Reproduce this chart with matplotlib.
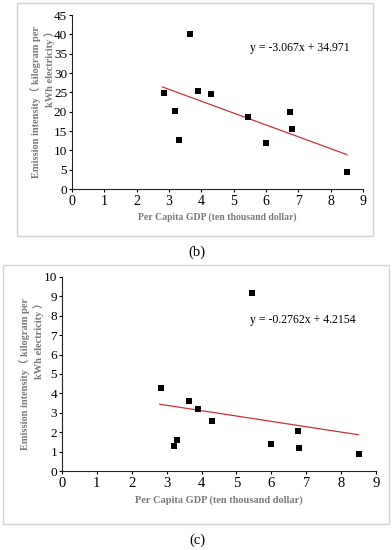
import matplotlib
matplotlib.use("Agg")
import matplotlib.pyplot as plt
from matplotlib.patches import Rectangle

# 字体：Times 风格 + 全角括号回退
plt.rcParams['font.family'] = ['Liberation Serif', 'Noto Sans CJK SC', 'DejaVu Sans']

# --- data ---
gdp = [2.85, 3.2, 3.3, 3.65, 3.9, 4.3, 5.45, 6.0, 6.75, 6.8, 8.5]
intensity_b = [24.7, 20.1, 12.6, 40.0, 25.3, 24.5, 18.6, 12.0, 19.9, 15.6, 4.5]
intensity_c = [4.3, 1.3, 1.6, 3.6, 3.2, 2.6, 9.2, 1.4, 2.05, 1.2, 0.9]
fit_b = (-3.067, 34.971)
fit_c = (-0.2762, 4.2154)
fit_range = [2.8, 8.5]
eq_b = "y = -3.067x + 34.971"
eq_c = "y = -0.2762x + 4.2154"
xlabel = "Per Capita GDP (ten thousand dollar)"
ylabel = "Emission intensity（ kilogram per\nkWh electricity ）"

W, H = 392, 550
fig = plt.figure(figsize=(W / 100, H / 100), dpi=100)


def px_box(x0, y0, x1, y1):
    # 像素坐标 -> figure 坐标
    return [x0 / W, 1 - y1 / H, (x1 - x0) / W, (y1 - y0) / H]


# 外框
for (x0, y0, x1, y1) in [(17, 3, 373, 236), (3, 265, 389, 524)]:
    fig.add_artist(Rectangle((x0 / W, 1 - y1 / H), (x1 - x0) / W, (y1 - y0) / H,
                             transform=fig.transFigure, fill=False,
                             edgecolor='#d4d4d4', linewidth=1.0))


def draw_panel(rect, yvals, fit, ymax, yticks, eq, eq_xy, xtick_fs, ytick_fs, lab_fs, ylab_pad, xlab_pad):
    ax = fig.add_axes(rect)
    ax.scatter(gdp, yvals, marker='s', s=22, color='black', zorder=3, linewidths=0)
    xs = fit_range
    ys = [fit[0] * v + fit[1] for v in xs]
    ax.plot(xs, ys, color='#c8323c', linewidth=0.9)
    ax.set_xlim(0, 9)
    ax.set_ylim(0, ymax)
    ax.set_xticks(range(0, 10))
    ax.set_yticks(yticks)
    for s in ['top', 'right']:
        ax.spines[s].set_visible(False)
    for s in ['left', 'bottom']:
        ax.spines[s].set_linewidth(0.8)
        ax.spines[s].set_color('#222222')
    ax.tick_params(axis='y', direction='out', length=2.5, width=0.8, pad=1, labelsize=ytick_fs)
    ax.tick_params(axis='x', direction='out', length=2.5, width=0.8, pad=2, labelsize=xtick_fs)
    ax.set_xlabel(xlabel, fontsize=lab_fs, fontweight='bold', color='#7a7a7a', labelpad=xlab_pad)
    ax.set_ylabel(ylabel, fontsize=7.5, fontweight='bold', color='#7a7a7a',
                  labelpad=ylab_pad, multialignment='right', linespacing=1.35)
    ax.text(eq_xy[0], eq_xy[1], eq, fontsize=8.5, ha='left', va='center')
    ax.patch.set_alpha(0)
    return ax


draw_panel(px_box(72, 15, 363, 189), intensity_b, fit_b, 45, range(0, 50, 5),
           eq_b, (5.5, 36.5), 10, 9.5, 7, -1, 3)
draw_panel(px_box(62, 277, 376, 471), intensity_c, fit_c, 10, range(0, 11),
           eq_c, (5.4, 7.8), 10.5, 9.5, 7.5, 0, 4)

fig.text(197 / W, 1 - 252 / H, "(b)", ha='center', va='center', fontsize=10.5)
fig.text(197 / W, 1 - 540 / H, "(c)", ha='center', va='center', fontsize=10.5)

fig.savefig("out.png", dpi=100)
